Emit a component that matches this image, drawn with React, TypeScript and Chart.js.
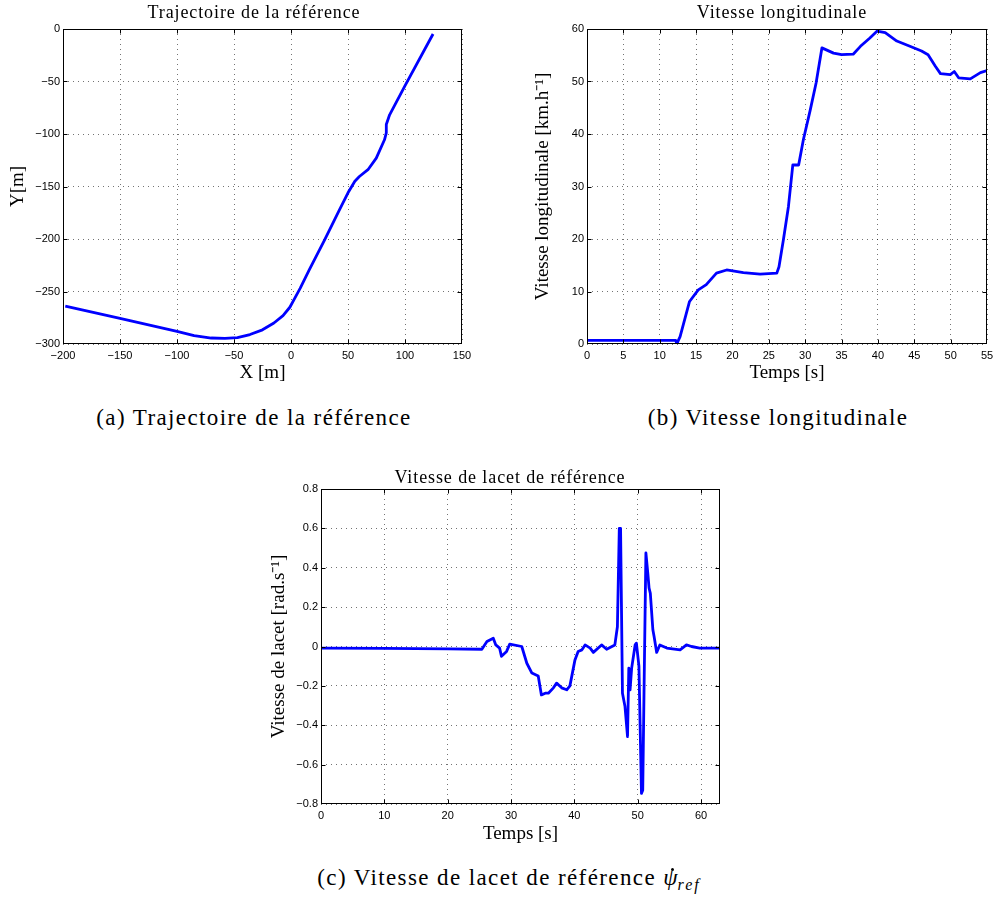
import React, { useEffect, useRef } from 'react';
import { Chart, registerables } from 'chart.js';

Chart.register(...registerables);

// ---- Data ----
// (a) Trajectoire de la référence
const trajX = [-198, -150, -100, -85, -70, -58, -47, -36, -25, -15, -7, -1, 3, 8, 16, 29.5, 42.6, 50, 56, 60, 67.5, 74.8, 82, 83.6, 83.6, 86.5, 99.7, 124.6];
const trajY = [-264, -275.5, -288, -292, -294.3, -294.7, -294, -291, -286.5, -280, -273, -265, -257, -247, -229.5, -200.8, -172, -156, -145, -140.5, -134, -123, -105.5, -99, -91, -81.7, -54.7, -4.8];

// (b) Vitesse longitudinale
const speedT = [0, 12.2, 12.35, 12.5, 12.8, 14.1, 15.3, 16.4, 17.8, 19.2, 21.5, 23.8, 26.1, 26.4, 27.0, 27.7, 28.3, 29.1, 29.75, 30.7, 31.5, 32.3, 33.9, 35.0, 36.6, 37.6, 38.9, 39.9, 41.0, 42.6, 44.4, 46.0, 46.9, 47.9, 48.6, 49.95, 50.5, 51.1, 52.7, 54.1, 55];
const speedV = [0.7, 0.7, 0, 0.5, 1.4, 8.1, 10.3, 11.3, 13.5, 14.1, 13.6, 13.3, 13.5, 14.7, 19.8, 26.2, 34.1, 34.1, 38.9, 44.6, 49.7, 56.4, 55.4, 55.1, 55.2, 56.7, 58.3, 59.6, 59.3, 57.7, 56.7, 55.8, 55.1, 52.9, 51.5, 51.3, 51.9, 50.7, 50.5, 51.7, 52.1];

// (c) Vitesse de lacet de référence
const yawT = [0, 10, 20, 25.4, 26.2, 27.2, 27.6, 28.2, 28.5, 29.3, 29.8, 31.7, 32.5, 33.3, 34.3, 34.8, 35.4, 35.9, 36.7, 37.2, 38.0, 38.8, 39.3, 40.1, 40.6, 41.2, 41.7, 42.5, 43.0, 44.3, 45.1, 46.4, 46.8, 47.1, 47.3, 47.6, 48.0, 48.4, 48.6, 48.8, 49.05, 49.6, 49.8, 50.2, 50.6, 50.8, 51.0, 51.3, 51.6, 51.8, 52.0, 52.4, 52.6, 53.0, 53.5, 54.6, 56.7, 57.7, 58.5, 59.8, 63];
const yawV = [-0.008, -0.01, -0.012, -0.014, 0.025, 0.042, 0.008, -0.008, -0.05, -0.025, 0.012, 0.0, -0.085, -0.135, -0.15, -0.246, -0.237, -0.237, -0.21, -0.186, -0.21, -0.22, -0.2, -0.068, -0.025, -0.017, 0.008, -0.008, -0.03, 0.008, -0.014, 0.008, 0.1, 0.6, 0.6, -0.237, -0.305, -0.458, -0.11, -0.22, -0.11, 0.008, 0.017, -0.1, -0.746, -0.73, -0.237, 0.475, 0.373, 0.297, 0.27, 0.085, 0.05, -0.03, 0.008, -0.008, -0.017, 0.008, 0.0, -0.008, -0.008];

// Axis ranges / ticks [min, max, step]
const trajXRange = [-200, 150, 50];
const trajYRange = [-300, 0, 50];
const speedTRange = [0, 55, 5];
const speedVRange = [0, 60, 10];
const yawTRange = [0, 63, 10];
const yawVRange = [-0.8, 0.8, 0.2];

// Texts
const titleA = 'Trajectoire de la référence';
const titleB = 'Vitesse longitudinale';
const titleC = 'Vitesse de lacet de référence';
const xTitleA = 'X [m]';
const yTitleA = 'Y[m]';
const xTitleB = 'Temps [s]';
const yTitleB = 'Vitesse longitudinale [km.h\u207B\u00B9]';
const xTitleC = 'Temps [s]';
const yTitleC = 'Vitesse de lacet [rad.s\u207B\u00B9]';

const SERIF = '"Liberation Serif", "Times New Roman", serif';
const SANS = '"Liberation Sans", Arial, Helvetica, sans-serif';

const fmt = (v: number) => {
  const r = Math.round(v * 100) / 100;
  return r < 0 ? '\u2212' + String(Math.abs(r)) : String(r);
};

const matlabBox = {
  id: 'matlabBox',
  afterDraw(chart: any) {
    const { ctx, chartArea: a, scales } = chart;
    const L = Math.round(a.left) + 0.5;
    const R = Math.round(a.right) - 0.5;
    const T = Math.round(a.top) + 0.5;
    const B = Math.round(a.bottom) - 0.5;
    ctx.save();
    ctx.strokeStyle = '#000';
    ctx.lineWidth = 1;
    ctx.beginPath();
    const tl = 4;
    scales.x.ticks.forEach((t: any) => {
      const p = Math.round(scales.x.getPixelForValue(t.value)) + 0.5;
      if (p <= L + 1 || p >= R - 1) return;
      ctx.moveTo(p, B); ctx.lineTo(p, B - tl);
      ctx.moveTo(p, T); ctx.lineTo(p, T + tl);
    });
    scales.y.ticks.forEach((t: any) => {
      const p = Math.round(scales.y.getPixelForValue(t.value)) + 0.5;
      if (p <= T + 1 || p >= B - 1) return;
      ctx.moveTo(L, p); ctx.lineTo(L + tl, p);
      ctx.moveTo(R, p); ctx.lineTo(R - tl, p);
    });
    ctx.stroke();
    ctx.strokeRect(L, T, R - L, B - T);
    ctx.restore();
  },
};

type Lay = { right: number; yw: number; xh: number; ytPad: number; xtPad: number };

function makeConfig(
  xs: number[], ys: number[],
  xr: number[], yr: number[],
  xTitle: string, yTitle: string,
  lay: Lay, includeBoundsX = true,
) {
  const points = xs.map((x, i) => ({ x, y: ys[i] }));
  const tickCommon = { color: '#000', font: { family: SANS, size: 11 }, autoSkip: false, maxRotation: 0, callback: (v: any) => fmt(Number(v)) };
  const gridCommon = { color: 'rgba(0,0,0,0.55)', lineWidth: 1, drawTicks: false };
  const borderCommon = { display: false, dash: [1, 4] };
  return {
    type: 'line' as const,
    data: {
      datasets: [{
        data: points,
        borderColor: '#0000ff',
        borderWidth: 2.8,
        pointRadius: 0,
        tension: 0,
        fill: false,
        borderJoinStyle: 'round' as const,
      }],
    },
    options: {
      responsive: false,
      animation: false as const,
      events: [],
      layout: { padding: { top: 29, right: lay.right, bottom: 0, left: 0 } },
      plugins: { legend: { display: false }, tooltip: { enabled: false }, title: { display: false } },
      scales: {
        x: {
          type: 'linear' as const,
          min: xr[0], max: xr[1],
          ticks: { ...tickCommon, stepSize: xr[2], padding: 5, includeBounds: includeBoundsX },
          grid: gridCommon,
          border: borderCommon,
          title: { display: true, text: xTitle, color: '#000', font: { family: SERIF, size: 19 }, padding: { top: 0, bottom: lay.xtPad } },
          afterFit: (s: any) => { s.height = lay.xh; s.paddingLeft = 0; s.paddingRight = 0; },
        },
        y: {
          type: 'linear' as const,
          min: yr[0], max: yr[1],
          ticks: { ...tickCommon, stepSize: yr[2], padding: 3 },
          grid: gridCommon,
          border: borderCommon,
          title: { display: true, text: yTitle, color: '#000', font: { family: SERIF, size: 19 }, padding: { top: lay.ytPad, bottom: 0 } },
          afterFit: (s: any) => { s.width = lay.yw; s.paddingTop = 0; s.paddingBottom = 0; },
        },
      },
    },
    plugins: [matlabBox],
  };
}

function ChartCanvas({ left, top, width, height, make }: { left: number; top: number; width: number; height: number; make: () => any }) {
  const ref = useRef<HTMLCanvasElement>(null);
  useEffect(() => {
    const chart = new Chart(ref.current as HTMLCanvasElement, make());
    return () => chart.destroy();
  }, []);
  return (
    <canvas
      ref={ref}
      width={width}
      height={height}
      style={{ position: 'absolute', left, top, width, height, display: 'block' }}
    />
  );
}

function Label({ cx, top, size, spacing, children }: { cx: number; top: number; size: number; spacing: number; children: React.ReactNode }) {
  return (
    <div
      style={{
        position: 'absolute', left: cx - 300, width: 600, top,
        textAlign: 'center', fontFamily: SERIF, fontSize: size,
        lineHeight: `${size}px`, letterSpacing: spacing, whiteSpace: 'nowrap', color: '#000',
      }}
    >
      {children}
    </div>
  );
}

export default function App() {
  return (
    <div style={{ position: 'absolute', left: 0, top: 0, width: 993, height: 900, background: '#fff', overflow: 'hidden' }}>
      <ChartCanvas
        left={0} top={0} width={480} height={400}
        make={() => makeConfig(trajX, trajY, trajXRange, trajYRange, xTitleA, yTitleA, { right: 18, yw: 63, xh: 56, ytPad: 7, xtPad: 15.6 })}
      />
      <ChartCanvas
        left={515} top={0} width={478} height={400}
        make={() => makeConfig(speedT, speedV, speedTRange, speedVRange, xTitleB, yTitleB, { right: 6, yw: 72, xh: 56, ytPad: 16.6, xtPad: 15.6 })}
      />
      <ChartCanvas
        left={240} top={460} width={490} height={400}
        make={() => makeConfig(yawT, yawV, yawTRange, yawVRange, xTitleC, yTitleC, { right: 10, yw: 81, xh: 56, ytPad: 27.6, xtPad: 14.6 }, false)}
      />

      <Label cx={254} top={3} size={18} spacing={0.9}>{titleA}</Label>
      <Label cx={782} top={3} size={18} spacing={0.9}>{titleB}</Label>
      <Label cx={510} top={468} size={18} spacing={0.9}>{titleC}</Label>

      <Label cx={254} top={406} size={23} spacing={1.4}>(a) Trajectoire de la référence</Label>
      <Label cx={778} top={406} size={23} spacing={1.4}>(b) Vitesse longitudinale</Label>
      <Label cx={509} top={866} size={23} spacing={1.4}>
        (c) Vitesse de lacet de référence{' '}
        <span style={{ position: 'relative', display: 'inline-block', fontStyle: 'italic', letterSpacing: 0 }}>
          {'\u03C8'}
          <span style={{ position: 'absolute', left: 8, top: 2, width: 3, height: 3, borderRadius: 2, background: '#000' }} />
        </span>
        <span style={{ fontStyle: 'italic', fontSize: 16, position: 'relative', top: 5, letterSpacing: 2 }}>ref</span>
      </Label>
    </div>
  );
}
